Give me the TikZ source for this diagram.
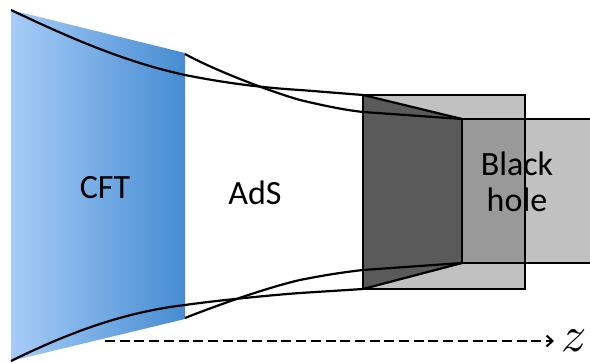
\documentclass[tikz,border=0pt]{standalone}
\usepackage{fontspec}
\setmainfont{Carlito}
\usetikzlibrary{arrows.meta}
\definecolor{blueL}{RGB}{166,204,247}
\definecolor{blueR}{RGB}{70,140,210}
\definecolor{lightG}{RGB}{193,193,193}
\definecolor{midG}{RGB}{153,153,153}
\definecolor{darkG}{RGB}{90,90,90}
\tikzset{
  curve/.style={line width=2.2pt,black,line join=round},
  boxline/.style={line width=2pt,black,line join=miter},
  lab/.style={font=\fontsize{34}{36}\selectfont,text=black,align=center,inner sep=0pt},
}
\begin{document}
\begin{tikzpicture}[x=1pt,y=-1pt]
\useasboundingbox (0,0) rectangle (590,363);
% CFT slab
\path[left color=blueL,right color=blueR,shading angle=90] (11,10) -- (185,53) -- (185,319) -- (11,361) -- cycle;
% light boxes
\fill[lightG] (363,95) rectangle (525,289);
\fill[lightG] (462,119) rectangle (590,263);
\fill[midG] (462,119) rectangle (525,263);
\fill[darkG] (363,95) -- (462,119) -- (462,263) -- (363,289) -- cycle;
\draw[boxline] (363,95) rectangle (525,289);
\draw[boxline] (592,119) -- (462,119) -- (462,263) -- (592,263);
% curves top
\draw[curve] (11,10) .. controls (70,38) and (125,62) .. (185,75) .. controls (210,80) and (250,87) .. (300,90) -- (363,95) -- (462,119);
\draw[curve] (185,54) .. controls (210,68) and (265,90) .. (300,100) .. controls (325,106) and (345,110) .. (363,112) -- (462,119);
% curves bottom
\draw[curve] (11,361) .. controls (70,332) and (125,312) .. (185,305) .. controls (205,302) and (260,296) .. (300,293) -- (363,289) -- (462,263);
\draw[curve] (185,318) .. controls (210,308) and (265,288) .. (300,280) .. controls (325,275) and (345,272) .. (363,270) -- (462,263);
% labels
\node[lab] (cft) at (105,188) {CFT};
\node[lab] (ads) at (255,193) {AdS};
\node[lab] (bh) at (517,182) {Black\\hole};
\node[inner sep=0pt,scale=5] (zz) at (574,341) {$z$};
\coordinate (start) at (105,341);
\draw[line width=2pt,dash pattern=on 10pt off 4.7pt,-{Straight Barb[length=6pt,width=11pt,line width=2pt]}] (start) -- (554,341);
\end{tikzpicture}
\end{document}
